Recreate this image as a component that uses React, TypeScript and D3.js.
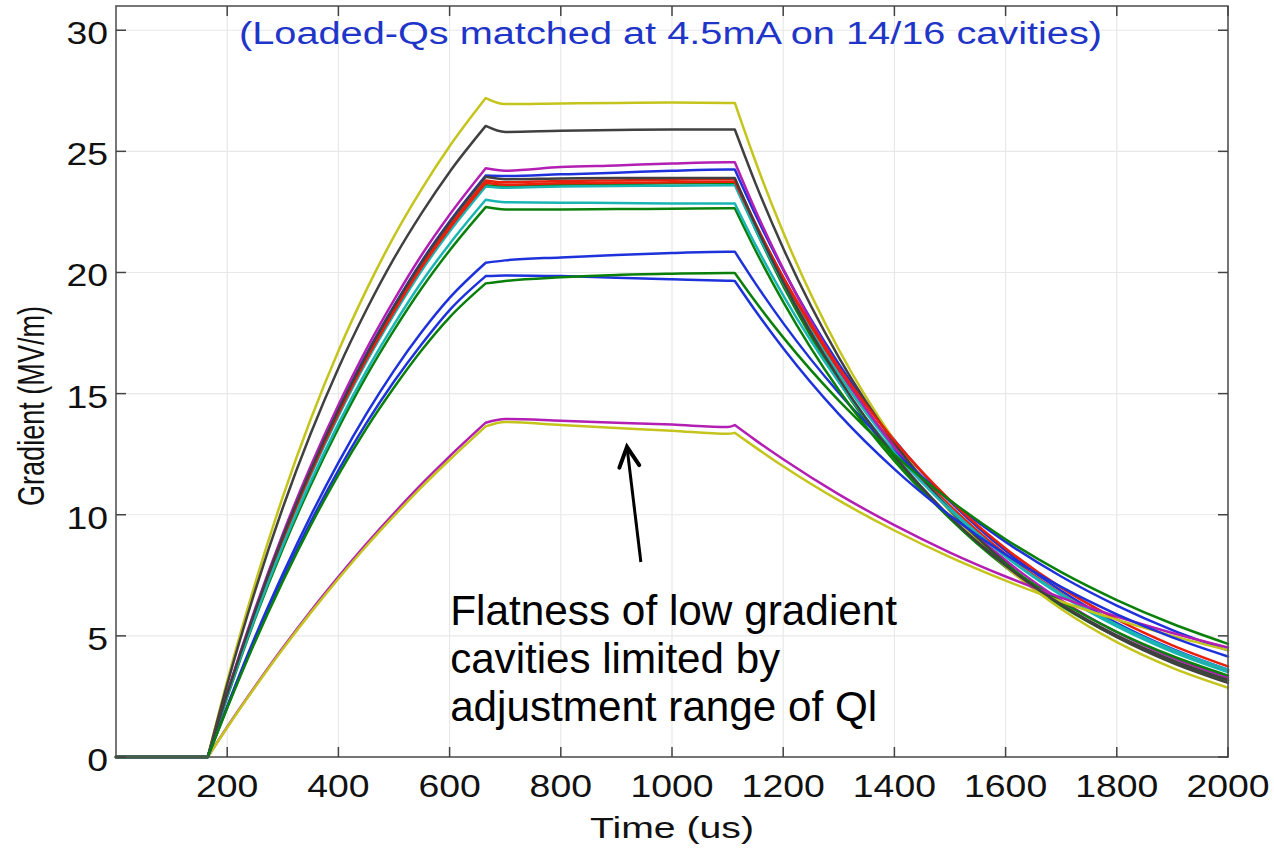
import React from 'react';
import * as d3 from 'd3';

// Time samples (us)
const TIMES = [0, 165, 200, 250, 300, 350, 400, 450, 500, 550, 600, 665, 700, 800, 900, 1000, 1100, 1113, 1150, 1200, 1300, 1400, 1500, 1600, 1700, 1800, 1900, 2000];

// Gradient (MV/m) per cavity
const YELLOW_TOP = [0, 0, 3.13, 7.15, 10.74, 13.93, 16.76, 19.26, 21.49, 23.45, 25.21, 27.2, 26.95, 26.98, 27.0, 27.02, 27.0, 27.0, 24.59, 21.66, 16.82, 13.06, 10.14, 7.87, 6.11, 4.74, 3.68, 2.86];
const BLACK_TOP = [0, 0, 3.0, 6.85, 10.29, 13.34, 16.05, 18.44, 20.58, 22.46, 24.15, 26.05, 25.8, 25.85, 25.88, 25.9, 25.9, 25.9, 23.69, 21.0, 16.5, 12.97, 10.19, 8.01, 6.29, 4.95, 3.89, 3.06];
const MAGENTA_HI = [0, 0, 2.65, 6.1, 9.21, 12.0, 14.53, 16.82, 18.86, 20.73, 22.38, 24.3, 24.2, 24.35, 24.42, 24.5, 24.55, 24.55, 22.57, 20.15, 16.05, 12.79, 10.19, 8.12, 6.47, 5.15, 4.1, 3.27];
const BLUE_HI = [0, 0, 2.62, 6.02, 9.1, 11.86, 14.35, 16.61, 18.62, 20.47, 22.1, 24.0, 23.98, 24.05, 24.12, 24.2, 24.25, 24.25, 22.39, 20.11, 16.22, 13.08, 10.55, 8.51, 6.86, 5.53, 4.46, 3.6];
const BLACK_MID = [0, 0, 2.61, 6.01, 9.08, 11.83, 14.32, 16.57, 18.59, 20.43, 22.06, 23.95, 23.85, 23.88, 23.9, 23.9, 23.9, 23.9, 21.97, 19.61, 15.63, 12.45, 9.92, 7.9, 6.3, 5.02, 4.0, 3.18];
const RED_A = [0, 0, 2.59, 5.97, 9.02, 11.76, 14.23, 16.47, 18.47, 20.3, 21.92, 23.8, 23.72, 23.78, 23.8, 23.83, 23.85, 23.85, 22.03, 19.78, 15.95, 12.87, 10.38, 8.37, 6.75, 5.44, 4.39, 3.54];
const RED_B = [0, 0, 2.58, 5.95, 8.98, 11.71, 14.17, 16.4, 18.39, 20.22, 21.83, 23.7, 23.62, 23.68, 23.7, 23.72, 23.75, 23.75, 21.99, 19.81, 16.09, 13.06, 10.6, 8.61, 6.99, 5.68, 4.61, 3.74];
const GREEN_HI = [0, 0, 2.57, 5.92, 8.94, 11.66, 14.11, 16.33, 18.31, 20.13, 21.74, 23.6, 23.55, 23.62, 23.65, 23.68, 23.7, 23.7, 21.79, 19.45, 15.5, 12.34, 9.84, 7.84, 6.24, 4.97, 3.96, 3.16];
const CYAN_HI = [0, 0, 2.57, 5.91, 8.93, 11.63, 14.08, 16.3, 18.27, 20.09, 21.69, 23.55, 23.5, 23.55, 23.57, 23.58, 23.6, 23.6, 21.79, 19.57, 15.79, 12.73, 10.27, 8.28, 6.68, 5.39, 4.34, 3.5];
const CYAN_MID = [0, 0, 2.51, 5.77, 8.72, 11.36, 13.75, 15.92, 17.85, 19.62, 21.18, 23.0, 22.9, 22.88, 22.87, 22.85, 22.85, 22.85, 21.15, 19.06, 15.48, 12.57, 10.2, 8.28, 6.73, 5.46, 4.43, 3.6];
const GREEN_MID = [0, 0, 2.47, 5.7, 8.6, 11.21, 13.57, 15.71, 17.62, 19.36, 20.91, 22.7, 22.6, 22.6, 22.62, 22.63, 22.65, 22.65, 20.92, 18.79, 15.15, 12.22, 9.86, 7.95, 6.41, 5.17, 4.17, 3.36];
const BLUE_MID = [0, 0, 2.1, 4.95, 7.55, 9.95, 12.15, 14.15, 15.95, 17.55, 18.95, 20.4, 20.5, 20.62, 20.72, 20.8, 20.86, 20.86, 19.55, 17.91, 15.03, 12.61, 10.58, 8.88, 7.45, 6.25, 5.24, 4.4];
const GREEN_LO = [0, 0, 2.02, 4.75, 7.25, 9.55, 11.65, 13.55, 15.25, 16.8, 18.15, 19.55, 19.65, 19.8, 19.9, 19.95, 19.98, 19.98, 18.8, 17.32, 14.71, 12.48, 10.6, 8.99, 7.63, 6.48, 5.5, 4.67];
const BLUE_LO = [0, 0, 2.05, 4.82, 7.36, 9.7, 11.83, 13.77, 15.5, 17.05, 18.45, 19.85, 19.88, 19.85, 19.78, 19.72, 19.66, 19.65, 18.42, 16.87, 14.15, 11.88, 9.97, 8.36, 7.02, 5.89, 4.94, 4.15];
const MAGENTA_LOW = [0, 0, 1.24, 2.91, 4.51, 6.02, 7.44, 8.79, 10.06, 11.27, 12.41, 13.8, 13.95, 13.88, 13.8, 13.72, 13.62, 13.7, 13.08, 12.29, 10.84, 9.57, 8.44, 7.45, 6.58, 5.8, 5.12, 4.52];
const YELLOW_LOW = [0, 0, 1.22, 2.88, 4.46, 5.95, 7.36, 8.7, 9.95, 11.15, 12.27, 13.65, 13.83, 13.7, 13.58, 13.47, 13.34, 13.38, 12.78, 12.0, 10.59, 9.35, 8.25, 7.28, 6.42, 5.67, 5.0, 4.41];

const X_TICKS = [200, 400, 600, 800, 1000, 1200, 1400, 1600, 1800, 2000];
const Y_TICKS = [0, 5, 10, 15, 20, 25, 30];
const SEGMENT_BREAKS = [0, 165, 665, 1113, 2000];

const TITLE = '(Loaded-Qs matched at 4.5mA on 14/16 cavities)';
const X_LABEL = 'Time (us)';
const Y_LABEL = 'Gradient (MV/m)';
const NOTE_LINES = ['Flatness of low gradient', 'cavities limited by', 'adjustment range of Ql'];

const C = {
  b: '#1e32dc',
  g: '#0a800a',
  r: '#e8200c',
  c: '#19b5b5',
  m: '#b31fb3',
  y: '#c4c41c',
  k: '#404040',
};

const SERIES = [
  { values: BLUE_HI, color: C.b },
  { values: GREEN_HI, color: C.g },
  { values: RED_A, color: C.r },
  { values: CYAN_HI, color: C.c },
  { values: MAGENTA_HI, color: C.m },
  { values: YELLOW_TOP, color: C.y },
  { values: BLACK_TOP, color: C.k },
  { values: BLUE_MID, color: C.b },
  { values: GREEN_MID, color: C.g },
  { values: RED_B, color: C.r },
  { values: CYAN_MID, color: C.c },
  { values: MAGENTA_LOW, color: C.m },
  { values: YELLOW_LOW, color: C.y },
  { values: BLACK_MID, color: C.k },
  { values: BLUE_LO, color: C.b },
  { values: GREEN_LO, color: C.g },
];

const FONT = '"Liberation Sans", Arial, Helvetica, sans-serif';

export default function App() {
  const W = 1274;
  const H = 849;
  const x = d3.scaleLinear().domain([0, 2000]).range([116, 1228]);
  const y = d3.scaleLinear().domain([0, 31]).range([757, 6]);
  const [x0, x1] = x.range();
  const [y0, y1] = y.range();

  const smooth = d3
    .line<[number, number]>()
    .x((d) => x(d[0]))
    .y((d) => y(d[1]))
    .curve(d3.curveMonotoneX);
  const straight = d3
    .line<[number, number]>()
    .x((d) => x(d[0]))
    .y((d) => y(d[1]));

  const pathFor = (values: number[]) => {
    const pts: [number, number][] = TIMES.map((t, i) => [t, values[i]]);
    let d = '';
    for (let s = 0; s < SEGMENT_BREAKS.length - 1; s++) {
      const a = SEGMENT_BREAKS[s];
      const b = SEGMENT_BREAKS[s + 1];
      const seg = pts.filter((p) => p[0] >= a && p[0] <= b);
      const gen = s === 0 ? straight : smooth;
      const part = gen(seg) || '';
      d += s === 0 ? part : part.replace(/^M/, 'L');
    }
    return d;
  };

  // annotation arrow, in data coordinates
  const ARROW_TAIL = [944, 8.05];
  const ARROW_TIP = [919, 12.8];
  const tx = x(ARROW_TIP[0]);
  const ty = y(ARROW_TIP[1]);
  const sx = x(ARROW_TAIL[0]);
  const sy = y(ARROW_TAIL[1]);
  const len = Math.hypot(tx - sx, ty - sy);
  const ux = (tx - sx) / len;
  const uy = (ty - sy) / len;
  const headLen = 22;
  const ang = (27 * Math.PI) / 180;
  const wing = (sgn: number) => {
    const c = Math.cos(sgn * ang);
    const s = Math.sin(sgn * ang);
    const rx = ux * c - uy * s;
    const ry = ux * s + uy * c;
    return [tx - headLen * rx, ty - headLen * ry];
  };
  const wA = wing(1);
  const wB = wing(-1);

  const NOTE_X = 601;
  const NOTE_Y = [5.45, 3.47, 1.49];
  const NOTE_W = [447, 330, 427];

  const tickLen = 10;

  return (
    <svg
      width={W}
      height={H}
      viewBox={`0 0 ${W} ${H}`}
      style={{ position: 'absolute', left: 0, top: 0, background: '#fff' }}
    >
      <rect x={0} y={0} width={W} height={H} fill="#fff" />
      {/* grid */}
      {X_TICKS.map((t) => (
        <line key={'gx' + t} x1={x(t)} x2={x(t)} y1={y1} y2={y0} stroke="#e8e8e8" strokeWidth={1.2} />
      ))}
      {Y_TICKS.map((v) => (
        <line key={'gy' + v} x1={x0} x2={x1} y1={y(v)} y2={y(v)} stroke="#e8e8e8" strokeWidth={1.2} />
      ))}

      {/* series */}
      {SERIES.map((s, i) => (
        <path
          key={'s' + i}
          d={pathFor(s.values)}
          fill="none"
          stroke={s.color}
          strokeWidth={2.5}
          strokeLinejoin="round"
          strokeLinecap="round"
        />
      ))}

      {/* box */}
      <rect x={x0} y={y1} width={x1 - x0} height={y0 - y1} fill="none" stroke="#555" strokeWidth={1.6} />

      {/* ticks */}
      {X_TICKS.map((t) => (
        <g key={'tx' + t}>
          <line x1={x(t)} x2={x(t)} y1={y0} y2={y0 - tickLen} stroke="#444" strokeWidth={1.5} />
          <line x1={x(t)} x2={x(t)} y1={y1} y2={y1 + tickLen} stroke="#444" strokeWidth={1.5} />
        </g>
      ))}
      {Y_TICKS.map((v) => (
        <g key={'ty' + v}>
          <line x1={x0} x2={x0 + tickLen} y1={y(v)} y2={y(v)} stroke="#444" strokeWidth={1.5} />
          <line x1={x1} x2={x1 - tickLen} y1={y(v)} y2={y(v)} stroke="#444" strokeWidth={1.5} />
        </g>
      ))}

      {/* tick labels */}
      {X_TICKS.map((t) => (
        <text
          key={'lx' + t}
          x={x(t)}
          y={797}
          textAnchor="middle"
          fontFamily={FONT}
          fontSize={31}
          fill="#111"
          textLength={String(t).length * 20.8}
          lengthAdjust="spacingAndGlyphs"
        >
          {t}
        </text>
      ))}
      {Y_TICKS.map((v) => (
        <text
          key={'ly' + v}
          x={108}
          y={y(v) + 14}
          textAnchor="end"
          fontFamily={FONT}
          fontSize={31}
          fill="#111"
          textLength={String(v).length * 20.8}
          lengthAdjust="spacingAndGlyphs"
        >
          {v}
        </text>
      ))}

      {/* axis labels */}
      <text
        x={x(1000)}
        y={838}
        textAnchor="middle"
        fontFamily={FONT}
        fontSize={30}
        fill="#111"
        textLength={164}
        lengthAdjust="spacingAndGlyphs"
      >
        {X_LABEL}
      </text>
      <text
        transform={`translate(44,406) scale(1.3,1) rotate(-90)`}
        textAnchor="middle"
        fontFamily={FONT}
        fontSize={28}
        fill="#111"
        textLength={200}
        lengthAdjust="spacingAndGlyphs"
      >
        {Y_LABEL}
      </text>

      {/* title inside axes */}
      <text
        x={239}
        y={44}
        fontFamily={FONT}
        fontSize={31}
        fill="#1f35c8"
        textLength={863}
        lengthAdjust="spacingAndGlyphs"
      >
        {TITLE}
      </text>

      {/* annotation */}
      {NOTE_LINES.map((s, i) => (
        <text
          key={'n' + i}
          x={x(NOTE_X)}
          y={y(NOTE_Y[i])}
          fontFamily={FONT}
          fontSize={42}
          fill="#000"
          textLength={NOTE_W[i]}
          lengthAdjust="spacingAndGlyphs"
        >
          {s}
        </text>
      ))}
      <line x1={sx} y1={sy} x2={tx} y2={ty} stroke="#000" strokeWidth={3} />
      <path
        d={`M${wA[0]},${wA[1]} L${tx},${ty} L${wB[0]},${wB[1]}`}
        fill="none"
        stroke="#000"
        strokeWidth={4}
        strokeLinejoin="miter"
        strokeLinecap="round"
      />
    </svg>
  );
}
